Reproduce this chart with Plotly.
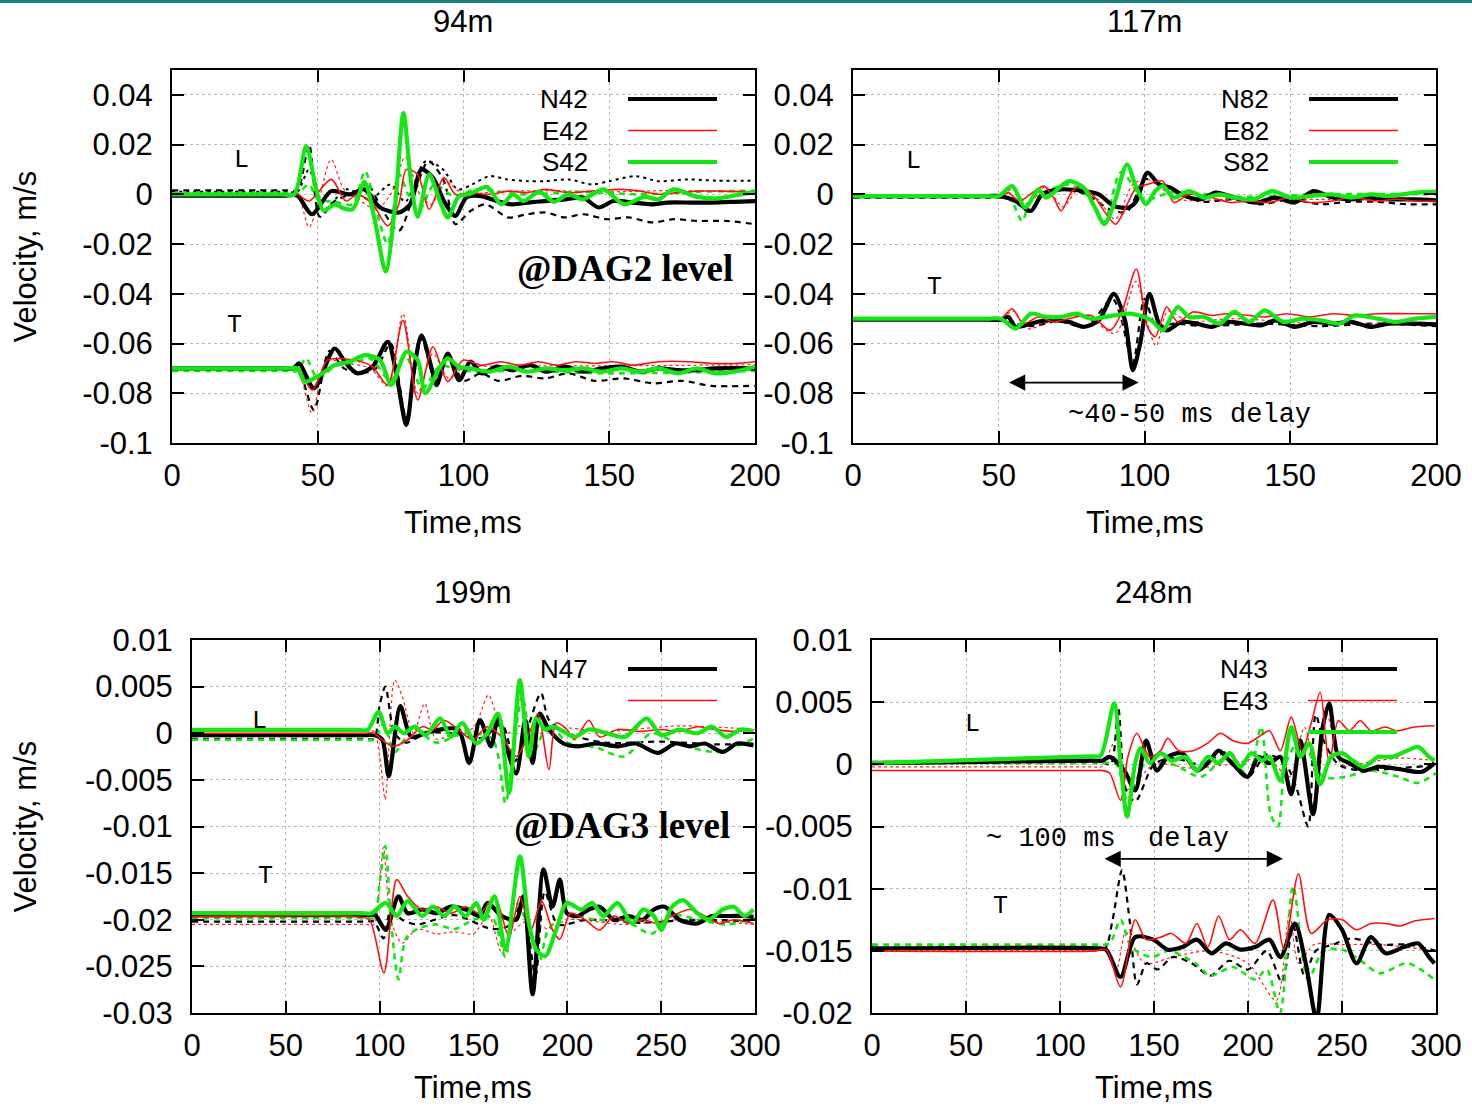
import plotly.graph_objects as go

# ---------------- tick labels ----------------
top_yticks = [0.04, 0.02, 0, -0.02, -0.04, -0.06, -0.08, -0.1]
top_yticklabels = ["0.04", "0.02", "0", "-0.02", "-0.04", "-0.06", "-0.08", "-0.1"]
top_xticks = [0, 50, 100, 150, 200]
bl_yticks = [0.01, 0.005, 0, -0.005, -0.01, -0.015, -0.02, -0.025, -0.03]
bl_yticklabels = ["0.01", "0.005", "0", "-0.005", "-0.01", "-0.015", "-0.02", "-0.025", "-0.03"]
br_yticks = [0.01, 0.005, 0, -0.005, -0.01, -0.015, -0.02]
br_yticklabels = ["0.01", "0.005", "0", "-0.005", "-0.01", "-0.015", "-0.02"]
bot_xticks = [0, 50, 100, 150, 200, 250, 300]

panel_titles = ["94m", "117m", "199m", "248m"]
legend_tl = ["N42", "E42", "S42"]
legend_tr = ["N82", "E82", "S82"]
legend_bl = ["N47", "", ""]
legend_br = ["N43", "E43", ""]

# ---------------- 94m (top-left) : L ----------------
tl_L_S_t = [0, 38, 42, 46, 49.5, 52, 56, 58.5, 62, 66, 69.5, 73.3, 76.5, 79.4, 82, 84.3, 88.2, 92, 94.6, 98.5, 102,
            108, 113, 117, 120.5, 126, 131, 136, 141, 148, 155, 162, 167, 172, 180, 188, 195, 200]
tl_L_S_v = [0, 0, 0, 0.0193, 0.002, -0.0065, -0.004, -0.0055, -0.006, 0.005, -0.01, -0.031, -0.005, 0.0327, 0.005,
            -0.009, 0.008, -0.003, -0.0093, -0.0007, 0.0, 0.003, -0.004, 0.0, -0.0027, 0.001, -0.003, 0.0, -0.002,
            0.002, -0.004, -0.001, -0.002, 0.002, -0.001, -0.0015, 0.0, 0.001]
tl_L_N_t = [0, 39, 43, 48, 54.6, 61, 66, 71.4, 77.8, 81.7, 85.6, 89.5, 93.3, 97.2, 101, 106, 111.4, 116.6, 122, 128,
            135, 141, 146.3, 151.5, 158, 164.5, 170, 178, 185, 193, 200]
tl_L_N_v = [-0.0005, -0.0005, -0.0005, -0.008, 0.0013, 0.0, 0.002, -0.0053, -0.0073, -0.004, 0.01, 0.0067, -0.0027,
            -0.0087, -0.0013, -0.0007, -0.0027, -0.004, -0.0033, -0.0027, -0.002, -0.0013, -0.0053, -0.0027,
            -0.0033, -0.004, -0.0033, -0.0033, -0.0033, -0.003, -0.0027]
tl_L_E_t = [0, 39, 43, 47, 54.6, 59.7, 63.6, 68.8, 74, 77.8, 80.4, 84.3, 88.2, 93.3, 97.2, 102.4, 108.9, 115.3,
            121.8, 128.2, 136, 143.8, 154.1, 160.6, 167, 173.5, 180, 187.7, 200]
tl_L_E_v = [0, 0, 0, -0.0027, 0.006, -0.0027, 0.0, -0.004, -0.0127, -0.004, 0.01, 0.008, -0.006, 0.0067, 0.0,
            0.0007, 0.0, 0.0013, 0.0007, 0.002, 0.0007, 0.0013, 0.002, 0.0013, 0.0, 0.0007, 0.0013, 0.0013, 0.001]
tl_L_Nd_t = [0, 39, 43, 47, 50.7, 55.8, 61, 67, 72, 77.8, 83, 88, 93.3, 97.2, 102.4, 107.6, 115.3, 121.8, 128.2,
             134.7, 141.2, 149, 156.7, 164.5, 172.2, 180, 190, 200]
tl_L_Nd_v = [0.0016, 0.0016, 0.0016, 0.02, -0.009, -0.0027, 0.0, 0.004, -0.006, -0.0147, 0.0, 0.0133, 0.0053, -0.012,
             -0.0067, -0.004, -0.0093, -0.008, -0.0073, -0.0093, -0.008, -0.01, -0.0093, -0.0113, -0.01, -0.0107,
             -0.0107, -0.012]
tl_L_No_t = [0, 39, 43, 47, 52, 60, 68, 75, 80, 87, 93, 98, 103, 108.9, 115, 122, 128, 136, 144, 150, 159, 167, 177,
             187, 200]
tl_L_No_v = [0.001, 0.001, 0.001, 0.01, -0.006, 0.002, -0.002, 0.004, -0.003, 0.0133, 0.01, 0.002, 0.004, 0.0073,
             0.006, 0.0053, 0.0053, 0.006, 0.004, 0.0053, 0.0073, 0.0053, 0.006, 0.0055, 0.0055]
tl_L_Ed_t = [0, 39, 43, 47, 50, 54.6, 59, 64, 70, 75, 80, 85, 89, 94, 100, 110, 130, 150, 170, 200]
tl_L_Ed_v = [0, 0, 0, -0.0133, -0.004, 0.014, 0.002, -0.002, -0.006, 0.0, 0.015, 0.0, -0.004, 0.005, 0.0, 0.001,
             0.0015, 0.001, 0.0015, 0.001]
tl_L_Sd_t = [0, 39, 43, 47, 50, 56, 62, 66.2, 70, 74, 78, 81, 85, 90, 97, 104, 120, 140, 160, 180, 200]
tl_L_Sd_v = [0.0003, 0.0003, 0.0003, 0.004, -0.002, -0.003, -0.004, 0.0093, -0.006, -0.02, 0.008, 0.0, -0.006, 0.004,
             -0.001, 0.002, 0.0, 0.001, 0.0, 0.001, 0.0015]

# ---------------- 94m (top-left) : T ----------------
tl_T_N_t = [0, 38, 41.6, 43.6, 48.7, 55.8, 59.7, 63.6, 68.8, 74, 76.5, 80.4, 83, 85.6, 89.5, 90.8, 94.6, 98.5, 102.4,
            106.3, 111.4, 116.6, 123, 128.2, 134.7, 141.2, 147.6, 154.1, 160.6, 167, 173.5, 180, 186.4, 200]
tl_T_N_v = [-0.07, -0.07, -0.07, -0.068, -0.078, -0.062, -0.068, -0.072, -0.0693, -0.0593, -0.0693, -0.0927, -0.0707,
            -0.0567, -0.072, -0.0767, -0.064, -0.0747, -0.0673, -0.072, -0.0693, -0.0707, -0.0687, -0.0713,
            -0.0693, -0.0713, -0.07, -0.0693, -0.0713, -0.07, -0.0707, -0.0707, -0.07, -0.07]
tl_T_E_t = [0, 39, 43, 48.1, 53.3, 57.1, 64.9, 68.8, 74, 79.2, 84.3, 89.5, 94.6, 99.8, 106.3, 112.7, 119.2, 125.7,
            132.1, 138.6, 145, 151.5, 158, 167, 177.4, 185.1, 192.9, 200]
tl_T_E_v = [-0.07, -0.07, -0.07, -0.0787, -0.0667, -0.066, -0.0673, -0.0693, -0.0767, -0.0507, -0.0827, -0.0613,
            -0.0753, -0.0667, -0.0687, -0.0673, -0.0687, -0.0673, -0.0687, -0.0673, -0.068, -0.0673, -0.0687,
            -0.0673, -0.0673, -0.068, -0.068, -0.0673]
tl_T_S_t = [0, 39, 43, 45.5, 50.7, 55.8, 61, 66.2, 71.4, 75.2, 80.4, 84.3, 86.9, 92, 94.6, 98.5, 102.4, 108.9, 115.3,
            121.8, 128.2, 134.7, 141.2, 147.6, 154.1, 160.6, 167, 173.5, 180, 186.4, 192.9, 200]
tl_T_S_v = [-0.07, -0.07, -0.07, -0.0753, -0.0727, -0.0687, -0.0673, -0.0647, -0.0667, -0.0767, -0.0633, -0.0667,
            -0.08, -0.0693, -0.066, -0.0693, -0.07, -0.0713, -0.0693, -0.0713, -0.07, -0.0707, -0.07, -0.0713,
            -0.07, -0.0713, -0.07, -0.072, -0.07, -0.072, -0.0713, -0.0693]
tl_T_Nd_t = [0, 39, 43, 48.7, 54, 59, 65, 70, 75, 80.4, 85.6, 90, 95, 100, 106, 112, 120, 128, 136, 145, 155, 165,
             175, 185, 200]
tl_T_Nd_v = [-0.07, -0.07, -0.07, -0.0867, -0.063, -0.07, -0.072, -0.07, -0.06, -0.09, -0.058, -0.073, -0.065, -0.075,
             -0.072, -0.075, -0.073, -0.074, -0.072, -0.075, -0.074, -0.076, -0.075, -0.077, -0.077]
tl_T_Ed_t = [0, 39, 43, 48, 53, 60, 68, 74, 79.2, 84.3, 89.5, 95, 100, 120, 150, 200]
tl_T_Ed_v = [-0.0705, -0.0705, -0.0705, -0.088, -0.067, -0.068, -0.07, -0.077, -0.048, -0.08, -0.064, -0.074, -0.07,
             -0.069, -0.069, -0.0685]
tl_T_Sd_t = [0, 39, 43, 46, 50, 56, 62, 68, 75, 80, 86, 92, 100, 120, 150, 200]
tl_T_Sd_v = [-0.071, -0.071, -0.071, -0.066, -0.074, -0.069, -0.068, -0.066, -0.075, -0.065, -0.078, -0.069, -0.071,
             -0.071, -0.072, -0.071]

# ---------------- 117m (top-right) : L ----------------
tr_L_S_t = [0, 46, 50, 54.6, 59.1, 63.6, 66.2, 74, 79.1, 83, 86.2, 89.5, 94, 97.2, 100.5, 103.7, 106.3, 110.1, 115.3,
            120.5, 125.7, 130.8, 137.3, 143.8, 150.2, 156.7, 164.5, 170.9, 177.4, 183.8, 192.9, 200]
tr_L_S_v = [-0.0007, -0.0007, -0.0007, 0.0033, -0.0053, 0.002, -0.0013, 0.0053, 0.0027, -0.0053, -0.012, -0.004, 0.012,
            0.0027, -0.004, 0.0013, 0.0033, -0.0013, 0.0013, -0.0013, 0.0, -0.0013, -0.002, 0.0013, -0.0013,
            -0.0007, 0.0, -0.0013, 0.0, -0.0007, 0.0007, 0.0011]
tr_L_N_t = [0, 46, 50.7, 55.8, 61, 64.9, 71.4, 79.1, 84.3, 89.5, 94.6, 97.2, 101, 105, 108.9, 112.7, 119.2, 124.4,
            130.8, 138.6, 145, 151.5, 158, 164.5, 170.9, 177.4, 183.8, 192.9, 200]
tr_L_N_v = [-0.0007, -0.0007, -0.0007, -0.0027, -0.0067, 0.0, 0.002, 0.0013, 0.0, -0.0047, -0.0053, -0.0027, 0.0087,
            0.004, 0.0027, 0.0, -0.002, 0.0007, -0.0013, -0.0033, -0.0013, -0.0033, 0.0013, -0.0013, -0.002,
            -0.0013, -0.002, -0.002, -0.0024]
tr_L_E_t = [0, 46, 50.7, 53.3, 57.1, 62.3, 65.5, 68.8, 71.4, 75.2, 78.5, 83, 86.9, 90.1, 94.6, 97.2, 101, 106.3,
            110.1, 115.3, 123, 129.5, 136, 142.5, 150.2, 156.7, 164.5, 170.9, 180, 186.4, 192.9, 200]
tr_L_E_v = [-0.0007, -0.0007, -0.0007, 0.0007, -0.0027, 0.0013, 0.0033, -0.0013, -0.0067, 0.0013, 0.0033, -0.0013,
            -0.008, -0.012, -0.0027, 0.0027, 0.004, 0.0053, -0.0033, 0.0, -0.0013, -0.0033, -0.0027, -0.0033,
            -0.0013, -0.0033, -0.0027, -0.0013, -0.0027, -0.002, -0.0027, -0.0027]
tr_L_Nd_t = [0, 46, 50, 56, 60, 66, 72, 80, 88, 94, 100, 104, 110, 120, 130, 140, 150, 160, 170, 180, 190, 200]
tr_L_Nd_v = [-0.0013, -0.0013, -0.0013, -0.002, -0.007, 0.001, 0.002, 0.0, -0.006, -0.007, 0.006, 0.005, 0.001, -0.003,
             -0.002, -0.004, -0.002, -0.004, -0.003, -0.003, -0.004, -0.004]
tr_L_Ed_t = [0, 46, 50, 55, 60, 66, 72, 78, 84, 90, 96, 101, 105, 112, 130, 160, 200]
tr_L_Ed_v = [-0.0005, -0.0005, -0.0005, 0.002, -0.004, 0.003, -0.005, 0.003, -0.002, -0.01, 0.004, 0.006, 0.003,
             -0.002, -0.002, -0.002, -0.002]
tr_L_Sd_t = [0, 46, 50, 54, 58, 61, 66, 74, 80, 86, 92, 100, 110, 130, 160, 200]
tr_L_Sd_v = [-0.0005, -0.0005, -0.0005, -0.002, -0.0107, -0.002, 0.001, 0.004, 0.0, -0.011, 0.009, -0.002, 0.001,
             -0.001, 0.0, 0.0]

# ---------------- 117m (top-right) : T ----------------
tr_T_N_t = [0, 46, 50.7, 53.3, 55.8, 61, 66.2, 74, 79.1, 84.3, 89.5, 93.3, 96, 98.5, 101.7, 105, 107.6, 112.7, 117.9,
            123, 128.2, 134.7, 139.9, 145, 151.5, 158, 164.5, 170.9, 177.4, 183.8, 192.9, 200]
tr_T_N_v = [-0.0504, -0.0504, -0.0504, -0.0493, -0.0533, -0.052, -0.0507, -0.0513, -0.0533, -0.0507, -0.04, -0.0507,
            -0.0707, -0.06, -0.04, -0.052, -0.0547, -0.0513, -0.052, -0.0533, -0.0513, -0.052, -0.0527, -0.0507,
            -0.0533, -0.0513, -0.052, -0.0513, -0.0533, -0.052, -0.052, -0.0523]
tr_T_E_t = [0, 46, 50.7, 54.6, 58.4, 63.6, 68.8, 74, 81.7, 88.2, 92, 97.2, 101, 103.7, 107.6, 111.4, 116.6, 123,
            128.2, 136, 141.2, 148.9, 156.7, 164.5, 172.2, 180, 190.3, 200]
tr_T_E_v = [-0.05, -0.05, -0.05, -0.046, -0.052, -0.0493, -0.0513, -0.05, -0.0487, -0.0547, -0.048, -0.03, -0.0533,
            -0.0573, -0.0453, -0.0513, -0.0473, -0.0487, -0.048, -0.0487, -0.0493, -0.048, -0.0493, -0.048,
            -0.0487, -0.048, -0.048, -0.048]
tr_T_S_t = [0, 46, 50.7, 55.8, 61, 66.2, 71.4, 76.5, 81.7, 89.5, 94.6, 99.8, 102.4, 106.3, 111.4, 115.3, 120.5,
            125.7, 130.8, 136, 141.2, 147.6, 154.1, 160.6, 167, 172.2, 180, 186.4, 192.9, 200]
tr_T_S_v = [-0.05, -0.05, -0.05, -0.054, -0.048, -0.0493, -0.0493, -0.048, -0.05, -0.0487, -0.048, -0.0493, -0.0507,
            -0.0547, -0.0453, -0.0493, -0.0493, -0.052, -0.0473, -0.0513, -0.0467, -0.0513, -0.05, -0.0507,
            -0.052, -0.0487, -0.05, -0.0513, -0.05, -0.0493]
tr_T_Nd_t = [0, 46, 50, 55, 62, 70, 80, 89, 92, 96, 100, 104, 110, 120, 140, 160, 180, 200]
tr_T_Nd_v = [-0.0505, -0.0505, -0.0505, -0.052, -0.053, -0.051, -0.053, -0.042, -0.05, -0.068, -0.042, -0.053, -0.052,
             -0.053, -0.052, -0.053, -0.052, -0.053]
tr_T_Ed_t = [0, 46, 50, 55, 60, 70, 80, 90, 97, 101, 104, 108, 115, 130, 160, 200]
tr_T_Ed_v = [-0.0505, -0.0505, -0.0505, -0.047, -0.054, -0.05, -0.049, -0.056, -0.035, -0.052, -0.061, -0.047, -0.051,
             -0.05, -0.052, -0.052]

# ---------------- 199m (bottom-left) : L ----------------
bl_L_S_t = [0, 88, 93.6, 99.4, 104.2, 108.1, 112.9, 118.7, 124.5, 132.2, 138, 143.8, 151.5, 157.3, 163.1, 168.9,
            174.7, 179.5, 183.4, 188.2, 192.1, 197.9, 203.7, 211.4, 221, 230.7, 242.3, 250, 259.7, 269.3, 277,
            284.7, 292.5, 299.2]
bl_L_S_v = [0.00036, 0.00036, 0.00036, 0.0023, 0.0, 0.0007, 0.0, 0.0007, -0.0002, 0.0016, -0.0004, 0.0011, -0.0011,
            0.0, 0.0021, -0.0064, 0.0057, -0.0025, 0.0016, 0.0004, 0.0007, 0.0002, -0.0004, 0.0004, 0.0, -0.0004,
            0.0016, -0.0002, 0.0004, 0.0, 0.0007, -0.0004, 0.0004, 0.0002]
bl_L_N_t = [0, 92, 97.5, 101.4, 104.8, 111, 116.8, 124.5, 132.2, 141.9, 147.7, 153.5, 159.3, 163.1, 167, 172.8,
            177.6, 181.5, 185.3, 190.2, 197.9, 205.6, 215.3, 226.8, 236.5, 248.1, 257.7, 265.4, 273.2, 282.8,
            290.5, 299.2]
bl_L_N_v = [-0.0002, -0.0002, -0.0002, -0.0007, -0.0046, 0.0029, -0.0004, 0.0, 0.0004, 0.0004, -0.0032, 0.0014,
            -0.0014, 0.0018, -0.0011, -0.0043, 0.0014, -0.0032, 0.0021, 0.0004, -0.0011, -0.0014, -0.0011, -0.0014,
            -0.0011, -0.0021, -0.0011, -0.0014, -0.0011, -0.002, -0.0011, -0.0013]
bl_L_E_t = [0, 92, 97, 99.4, 107.1, 114.9, 122.6, 128.4, 134.2, 141.9, 149.6, 157.3, 165.1, 172.8, 180.5, 184.4,
            190.2, 194, 199.8, 203.7, 211.4, 217.2, 226.8, 238.4, 250, 259.7, 269.3, 279, 288.6, 299.2]
bl_L_E_v = [0.0, 0.0, 0.0, -0.0004, -0.0014, -0.0007, 0.0007, 0.0004, 0.0014, 0.0004, -0.0007, 0.0007, -0.0004,
            -0.0025, 0.0004, 0.0021, -0.0039, 0.0011, 0.0004, -0.0007, 0.0014, -0.0004, 0.0004, 0.0002, 0.0004,
            0.0002, 0.0007, 0.0004, 0.0002, 0.0004]
bl_L_Ed_t = [0, 92, 97, 100, 103, 108, 112, 118, 124, 130, 140, 150, 158, 163, 168, 175, 185, 195, 220, 260, 300]
bl_L_Ed_v = [0.0002, 0.0002, 0.0002, -0.0025, -0.0071, 0.0057, 0.004, 0.0, 0.0032, -0.0006, 0.0, 0.0006, 0.0041,
             0.0015, 0.0, 0.0008, 0.0, 0.0006, 0.0002, 0.0008, 0.0004]
bl_L_Nd_t = [0, 92, 97, 100, 103, 108, 114, 125, 140, 155, 165, 172, 178, 186, 190, 200, 220, 250, 280, 300]
bl_L_Nd_v = [-0.0006, -0.0006, -0.0006, 0.003, 0.005, 0.0, -0.001, 0.0, 0.0, -0.0005, 0.001, -0.003, 0.0, 0.0043,
             0.0015, 0.0, -0.001, -0.0009, -0.0012, -0.0011]
bl_L_Sd_t = [0, 92, 97, 102, 108, 118, 130, 145, 160, 167, 170, 176, 182, 190, 200, 215, 230, 245, 260, 280, 300]
bl_L_Sd_v = [-0.0007, -0.0007, -0.0007, 0.001, -0.002, 0.0005, -0.001, 0.0, -0.0006, -0.0075, -0.004, 0.004, -0.002,
             0.001, -0.001, -0.0015, -0.0025, 0.0, -0.0012, -0.002, -0.0005]

# ---------------- 199m (bottom-left) : T ----------------
bl_T_S_t = [0, 90, 95.6, 103.3, 109.1, 114.9, 122.6, 128.4, 134.2, 140, 145.8, 151.5, 155.4, 161.2, 167, 174.7,
            179.5, 183.4, 188.2, 194, 199.8, 207.5, 213.3, 219.1, 226.8, 234.6, 240.3, 246.1, 250, 255.8, 261.6,
            269.3, 275.1, 282.8, 288.6, 294.4, 299.2]
bl_T_S_v = [-0.0193, -0.0193, -0.0193, -0.0182, -0.0196, -0.018, -0.0196, -0.0186, -0.0196, -0.0186, -0.0196,
            -0.0182, -0.02, -0.0175, -0.0232, -0.0132, -0.0204, -0.0232, -0.0239, -0.0211, -0.0182, -0.0189,
            -0.0182, -0.0196, -0.0182, -0.0204, -0.0189, -0.0196, -0.0211, -0.0186, -0.0179, -0.0193, -0.02,
            -0.0189, -0.0186, -0.0196, -0.0189]
bl_T_N_t = [0, 92, 97.5, 99.4, 103.3, 110, 114.9, 122.6, 130.3, 138, 145.8, 153.5, 157.3, 165.1, 172.8, 176.6,
            181.5, 187.3, 192.1, 196, 199.8, 205.6, 211.4, 217.2, 224.9, 232.6, 240.3, 246.1, 251.9, 259.7, 269.3,
            277, 284.7, 292.5, 299.2]
bl_T_N_v = [-0.0195, -0.0195, -0.0195, -0.02, -0.0211, -0.0175, -0.0193, -0.0189, -0.0193, -0.0186, -0.0189,
            -0.0196, -0.0182, -0.0196, -0.02, -0.0175, -0.028, -0.0146, -0.0186, -0.0157, -0.0193, -0.0196,
            -0.0189, -0.0186, -0.02, -0.0196, -0.02, -0.0189, -0.0186, -0.02, -0.0204, -0.0196, -0.0196, -0.0196,
            -0.0197]
bl_T_E_t = [0, 89, 94.6, 102.3, 109.1, 114.9, 122.6, 130.3, 138, 145.8, 153.5, 161.2, 168.9, 174.7, 180.5, 186.3,
            192.1, 196, 201.7, 209.5, 217.2, 224.9, 232.6, 240.3, 248.1, 255.8, 265.4, 273.2, 280.9, 288.6, 299.2]
bl_T_E_v = [-0.0197, -0.0197, -0.02, -0.0257, -0.0157, -0.0175, -0.0189, -0.0186, -0.0193, -0.0186, -0.0193,
            -0.0175, -0.0218, -0.0175, -0.0211, -0.018, -0.0211, -0.0221, -0.0193, -0.02, -0.0211, -0.0196, -0.0204,
            -0.02, -0.0204, -0.0196, -0.0189, -0.0196, -0.0204, -0.02, -0.0204]
bl_T_Sd_t = [0, 92, 97, 100, 103, 106, 110, 114, 120, 130, 140, 150, 160, 167, 172, 180, 185, 190, 200, 215, 230,
             245, 255, 270, 285, 300]
bl_T_Sd_v = [-0.0198, -0.0198, -0.0198, -0.016, -0.0121, -0.02, -0.0264, -0.022, -0.021, -0.0205, -0.021, -0.02,
             -0.0198, -0.024, -0.018, -0.021, -0.0245, -0.021, -0.0195, -0.02, -0.02, -0.0215, -0.0195, -0.02,
             -0.0205, -0.0198]
bl_T_Ed_t = [0, 92, 97, 100, 102, 106, 112, 120, 130, 140, 150, 158, 165, 170, 180, 190, 200, 230, 260, 300]
bl_T_Ed_v = [-0.0205, -0.0205, -0.0205, -0.016, -0.0122, -0.02, -0.0225, -0.021, -0.0215, -0.0213, -0.0215, -0.0195,
             -0.0235, -0.0215, -0.02, -0.021, -0.02, -0.0205, -0.02, -0.0205]
bl_T_Nd_t = [0, 92, 97, 102, 106, 112, 120, 140, 160, 170, 176, 183, 188, 195, 210, 240, 270, 300]
bl_T_Nd_v = [-0.0202, -0.0202, -0.0202, -0.022, -0.019, -0.02, -0.0205, -0.0195, -0.021, -0.0205, -0.018, -0.026,
             -0.017, -0.0205, -0.02, -0.0203, -0.02, -0.0202]

# ---------------- 248m (bottom-right) : L ----------------
br_L_S_t = [0, 117, 121.6, 128.8, 132.2, 135.7, 140, 142.9, 147.7, 153.5, 159.3, 167, 172.8, 178.6, 184.4, 190.2,
            196, 201.7, 207.5, 211.4, 217.2, 223, 227.8, 232.6, 238.4, 244.2, 250, 255.8, 261.6, 269.3, 277, 284.7,
            290.5, 296.3, 299.2]
br_L_S_v = [0.0001, 0.00065, 0.0007, 0.0049, 0.0001, -0.0042, 0.0001, 0.0013, 0.0001, 0.0009, 0.0003, 0.0006,
            -0.0005, 0.0006, 0.0001, 0.0009, -0.0002, 0.0009, 0.0003, 0.0006, -0.0013, 0.003, 0.0006, 0.0017,
            -0.0016, 0.0006, 0.0009, 0.0003, -0.0002, 0.0006, 0.0006, 0.0011, 0.0014, 0.0006, 0.0003]
br_L_N_t = [0, 117, 122.6, 126.4, 134.2, 140, 145.8, 151.5, 157.3, 165.1, 172.8, 178.6, 184.4, 190.2, 199.8, 205.6,
            211.4, 217.2, 223, 227.8, 234.6, 239.4, 243.2, 248.1, 253.9, 261.6, 269.3, 277, 284.7, 292.5, 299.2]
br_L_N_v = [0.0001, 0.0003, 0.0003, 0.0006, -0.0005, -0.0021, 0.0019, -0.0005, 0.0006, 0.0009, -0.0005, 0.0001,
            0.0011, 0.0003, -0.001, 0.0006, 0.0001, 0.0006, -0.0024, 0.0019, -0.004, 0.0027, 0.0049, 0.0006,
            0.0001, -0.0005, -0.0002, -0.0003, -0.0005, -0.0006, 0.0001]
br_L_E_t = [0, 117, 122.6, 126.4, 132.2, 136.1, 140.9, 147.7, 153.5, 157.3, 163.1, 170.8, 178.6, 185.3, 192.1,
            199.8, 205.6, 211.4, 217.2, 223, 228.8, 233.6, 238.4, 243.2, 248.1, 253.9, 259.7, 265.4, 273.2, 279,
            288.6, 299.2]
br_L_E_v = [-0.0005, -0.0005, -0.0005, -0.0007, -0.0029, 0.0006, 0.0025, 0.0006, 0.0011, 0.0021, 0.0011, 0.0011,
            0.0017, 0.0025, 0.0019, 0.0017, 0.0022, 0.0027, 0.0011, 0.0038, 0.0011, 0.0033, 0.0058, 0.0001, 0.0035,
            0.0027, 0.0035, 0.0027, 0.003, 0.0027, 0.003, 0.0031]
br_L_Nd_t = [0, 117, 122, 127, 131, 135, 140, 150, 160, 175, 190, 200, 210, 220, 226, 232, 236, 240, 248, 260, 280,
             300]
br_L_Nd_v = [0.0002, 0.0002, 0.0002, 0.0, 0.0045, -0.002, -0.003, 0.0, 0.0005, 0.0, 0.001, -0.001, 0.0008, 0.0,
             -0.002, -0.005, 0.004, 0.002, 0.0, -0.0005, -0.0003, -0.0001]
br_L_Sd_t = [0, 117, 122, 130, 136, 145, 160, 175, 190, 200, 207, 212, 216, 220, 228, 240, 252, 265, 280, 290, 300]
br_L_Sd_v = [0.0001, 0.0001, 0.0001, 0.0, -0.003, 0.0, 0.0, -0.001, 0.0008, -0.001, 0.003, -0.004, -0.005, 0.0,
             0.002, -0.001, -0.001, -0.0005, -0.001, -0.0015, -0.0007]
br_L_Ed_t = [0, 117, 122, 130, 136, 150, 170, 190, 210, 222, 230, 237, 242, 250, 265, 280, 300]
br_L_Ed_v = [-0.0002, -0.0002, -0.0002, 0.002, -0.002, 0.0, -0.0003, 0.0, 0.0005, -0.001, 0.003, -0.0015, 0.004,
             0.0, 0.0002, 0.0005, 0.0003]

# ---------------- 248m (bottom-right) : T ----------------
br_T_N_t = [0, 119, 124.5, 132.2, 140, 149.6, 157.3, 165.1, 172.8, 180.5, 188.2, 196, 203.7, 211.4, 217.2, 224.9,
            230.7, 236.5, 243.2, 250, 257.7, 265.4, 273.2, 282.8, 290.5, 296.3, 299.2]
br_T_N_v = [-0.0148, -0.0148, -0.0149, -0.0171, -0.0139, -0.0141, -0.0149, -0.0147, -0.0141, -0.0152, -0.0144,
            -0.0149, -0.0147, -0.0141, -0.0155, -0.0128, -0.016, -0.0205, -0.0121, -0.0133, -0.016, -0.0139,
            -0.0152, -0.0147, -0.0144, -0.0155, -0.016]
br_T_E_t = [0, 119, 124.5, 132.2, 140, 145.8, 153.5, 159.3, 167, 172.8, 178.6, 184.4, 190.2, 196, 203.7, 213.3,
            219.1, 226.8, 233.6, 242.3, 250, 257.7, 265.4, 273.2, 280.9, 288.6, 299.2]
br_T_E_v = [-0.015, -0.015, -0.0149, -0.0179, -0.0125, -0.0141, -0.0139, -0.0136, -0.0144, -0.0128, -0.0147,
            -0.0122, -0.0141, -0.0133, -0.0144, -0.0109, -0.0149, -0.0088, -0.0136, -0.0125, -0.0125, -0.0133,
            -0.0128, -0.0128, -0.013, -0.0126, -0.0124]
br_T_Nd_t = [0, 119, 124, 128, 133, 137, 141, 146, 152, 160, 170, 180, 190, 200, 210, 218, 224, 230, 236, 245, 255,
             270, 285, 300]
br_T_Nd_v = [-0.0148, -0.0148, -0.0148, -0.0125, -0.0085, -0.0125, -0.0177, -0.016, -0.0165, -0.0155, -0.016,
             -0.017, -0.0158, -0.0165, -0.015, -0.0175, -0.013, -0.017, -0.015, -0.0145, -0.014, -0.0145, -0.0145,
             -0.015]
br_T_Sd_t = [0, 119, 124, 127, 132.2, 138, 148.7, 158, 172, 180, 192, 203.7, 210, 217, 224, 232, 240, 250, 260, 270,
             285, 299]
br_T_Sd_v = [-0.0145, -0.0145, -0.0145, -0.0143, -0.0125, -0.0147, -0.0155, -0.015, -0.016, -0.017, -0.0163,
             -0.0173, -0.0165, -0.02, -0.0098, -0.0173, -0.015, -0.0149, -0.0158, -0.0168, -0.016, -0.0173]
br_T_Ed_t = [0, 119, 124, 130, 135, 145, 160, 180, 200, 215, 222, 227, 235, 250, 270, 300]
br_T_Ed_v = [-0.015, -0.015, -0.015, -0.0165, -0.0135, -0.016, -0.0155, -0.015, -0.016, -0.019, -0.012, -0.016,
             -0.0145, -0.0145, -0.0145, -0.015]

# ---------------- styles ----------------
GREEN = "#14e614"
styles = {
    "N": dict(color="black", width=4.2),
    "E": dict(color="#ff1010", width=1.6),
    "S": dict(color=GREEN, width=4.2),
    "Nd": dict(color="black", width=2.2, dash="6px,5px"),
    "No": dict(color="black", width=2.0, dash="3px,4px"),
    "Ed": dict(color="#ff2020", width=1.2, dash="3px,3px"),
    "Sd": dict(color=GREEN, width=2.6, dash="6px,5px"),
}

series = [
    (1, "No", tl_L_No_t, tl_L_No_v), (1, "Nd", tl_L_Nd_t, tl_L_Nd_v), (1, "Ed", tl_L_Ed_t, tl_L_Ed_v),
    (1, "Sd", tl_L_Sd_t, tl_L_Sd_v), (1, "Nd", tl_T_Nd_t, tl_T_Nd_v), (1, "Ed", tl_T_Ed_t, tl_T_Ed_v),
    (1, "Sd", tl_T_Sd_t, tl_T_Sd_v),
    (1, "N", tl_L_N_t, tl_L_N_v), (1, "N", tl_T_N_t, tl_T_N_v),
    (1, "E", tl_L_E_t, tl_L_E_v), (1, "E", tl_T_E_t, tl_T_E_v),
    (1, "S", tl_L_S_t, tl_L_S_v), (1, "S", tl_T_S_t, tl_T_S_v),

    (2, "Nd", tr_L_Nd_t, tr_L_Nd_v), (2, "Ed", tr_L_Ed_t, tr_L_Ed_v), (2, "Sd", tr_L_Sd_t, tr_L_Sd_v),
    (2, "Nd", tr_T_Nd_t, tr_T_Nd_v), (2, "Ed", tr_T_Ed_t, tr_T_Ed_v),
    (2, "N", tr_L_N_t, tr_L_N_v), (2, "N", tr_T_N_t, tr_T_N_v),
    (2, "E", tr_L_E_t, tr_L_E_v), (2, "E", tr_T_E_t, tr_T_E_v),
    (2, "S", tr_L_S_t, tr_L_S_v), (2, "S", tr_T_S_t, tr_T_S_v),

    (3, "Ed", bl_L_Ed_t, bl_L_Ed_v), (3, "Nd", bl_L_Nd_t, bl_L_Nd_v), (3, "Sd", bl_L_Sd_t, bl_L_Sd_v),
    (3, "Ed", bl_T_Ed_t, bl_T_Ed_v), (3, "Nd", bl_T_Nd_t, bl_T_Nd_v), (3, "Sd", bl_T_Sd_t, bl_T_Sd_v),
    (3, "N", bl_L_N_t, bl_L_N_v), (3, "N", bl_T_N_t, bl_T_N_v),
    (3, "E", bl_L_E_t, bl_L_E_v), (3, "E", bl_T_E_t, bl_T_E_v),
    (3, "S", bl_L_S_t, bl_L_S_v), (3, "S", bl_T_S_t, bl_T_S_v),

    (4, "Ed", br_L_Ed_t, br_L_Ed_v), (4, "Nd", br_L_Nd_t, br_L_Nd_v), (4, "Sd", br_L_Sd_t, br_L_Sd_v),
    (4, "Ed", br_T_Ed_t, br_T_Ed_v), (4, "Nd", br_T_Nd_t, br_T_Nd_v), (4, "Sd", br_T_Sd_t, br_T_Sd_v),
    (4, "N", br_L_N_t, br_L_N_v), (4, "N", br_T_N_t, br_T_N_v),
    (4, "E", br_L_E_t, br_L_E_v), (4, "E", br_T_E_t, br_T_E_v),
    (4, "S", br_L_S_t, br_L_S_v),
]

fig = go.Figure()
for p, kind, t, v in series:
    sfx = "" if p == 1 else str(p)
    fig.add_trace(go.Scatter(x=t, y=v, mode="lines", xaxis="x" + sfx, yaxis="y" + sfx,
                             line=dict(shape="spline", smoothing=0.8, **styles[kind]),
                             showlegend=False, hoverinfo="skip"))

W, H = 1472, 1108
SANS = "Liberation Sans, Arial, sans-serif"
MONO = "Liberation Mono, Courier New, monospace"
SERIF = "Liberation Serif, Times New Roman, serif"
FS = 31
LEG_FS = 26

boxes = {1: (172, 755, 70, 443), 2: (853, 1436, 70, 443), 3: (192, 755, 640, 1013), 4: (872, 1436, 640, 1013)}
ranges = {1: ([0, 200], [-0.1, 0.05]), 2: ([0, 200], [-0.1, 0.05]),
          3: ([0, 300], [-0.03, 0.01]), 4: ([0, 300], [-0.02, 0.01])}
yt = {1: (top_yticks, top_yticklabels), 2: (top_yticks, top_yticklabels),
      3: (bl_yticks, bl_yticklabels), 4: (br_yticks, br_yticklabels)}
xt = {1: top_xticks, 2: top_xticks, 3: bot_xticks, 4: bot_xticks}

common = dict(showline=True, linecolor="black", linewidth=2, mirror="ticks", ticks="inside", ticklen=12,
              tickwidth=2, tickcolor="black", showgrid=True, gridcolor="#b8b8b8", gridwidth=1, griddash="dot",
              zeroline=False, automargin=False, fixedrange=True,
              tickfont=dict(family=SANS, size=FS, color="black"))
layout_axes = {}
for p, (l, r, t, b) in boxes.items():
    sfx = "" if p == 1 else str(p)
    layout_axes["xaxis" + sfx] = dict(common, domain=[l / W, r / W], range=ranges[p][0], anchor="y" + sfx,
                                      tickvals=xt[p], ticktext=[str(v) for v in xt[p]], ticklabelstandoff=4)
    layout_axes["yaxis" + sfx] = dict(common, domain=[1 - b / H, 1 - t / H], range=ranges[p][1],
                                      anchor="x" + sfx, tickvals=yt[p][0], ticktext=yt[p][1],
                                      ticklabelstandoff=11)

fig.update_layout(template="none", width=W, height=H, autosize=False,
                  margin=dict(l=0, r=0, t=0, b=0, pad=0, autoexpand=False),
                  paper_bgcolor="white", plot_bgcolor="white", showlegend=False, **layout_axes)

ann = []
shapes = []
for p, title in zip([1, 2, 3, 4], panel_titles):
    l, r, t, b = boxes[p]
    cx = (l + r) / 2 / W
    ann.append(dict(text=title, x=cx, y=1 - (t - 48) / H, xref="paper", yref="paper", showarrow=False,
                    xanchor="center", yanchor="middle", font=dict(family=SANS, size=FS, color="black")))
    if p in (1, 2):
        ann.append(dict(text="Time,ms", x=cx, y=1 - (b + 79) / H, xref="paper", yref="paper", showarrow=False,
                        xanchor="center", yanchor="middle", font=dict(family=SANS, size=FS, color="black")))
    else:
        ann.append(dict(text="Time,ms", x=cx, y=1 - (b + 94) / H, xref="paper", yref="paper", showarrow=False,
                        xanchor="center", yanchor="bottom", font=dict(family=SANS, size=FS, color="black")))
for p in (1, 3):
    l, r, t, b = boxes[p]
    ann.append(dict(text="Velocity, m/s", x=25 / W, y=1 - (t + b) / 2 / H, xref="paper", yref="paper",
                    xanchor="center", yanchor="middle", textangle=-90, showarrow=False,
                    font=dict(family=SANS, size=FS, color="black")))

legend_sets = {1: legend_tl, 2: legend_tr, 3: legend_bl, 4: legend_br}
legend_kinds = ["N", "E", "S"]
legend_draw = {1: [1, 1, 1], 2: [1, 1, 1], 3: [1, 1, 0], 4: [1, 1, 1]}
for p, labels in legend_sets.items():
    l, r, t, b = boxes[p]
    wpx, hpx = r - l, b - t
    sfx = "" if p == 1 else str(p)
    for i, (lab, kind) in enumerate(zip(labels, legend_kinds)):
        ypx = 29 + 31.5 * i
        yd = 1 - ypx / hpx
        if lab:
            ann.append(dict(text=lab, x=(418 if p in (1, 2) else 398) / wpx, y=yd, xref="x" + sfx + " domain",
                            yref="y" + sfx + " domain", xanchor="right", yanchor="middle", showarrow=False,
                            font=dict(family=SANS, size=LEG_FS, color="black")))
        if legend_draw[p][i]:
            st = styles[kind]
            shapes.append(dict(type="line", xref="x" + sfx + " domain", yref="y" + sfx + " domain",
                               x0=(456 if p in (1, 2) else 436) / wpx, x1=(545 if p in (1, 2) else 525) / wpx,
                               y0=yd, y1=yd, line=dict(color=st["color"], width=st["width"])))

lt_labels = [(1, "L", 23.7, 0.0137), (1, "T", 21.6, -0.0527), (2, "L", 20.6, 0.0133), (2, "T", 28.1, -0.0374),
             (3, "L", 35.7, 0.0013), (3, "T", 39.4, -0.0154), (4, "L", 53.2, 0.0032), (4, "T", 68.1, -0.0114)]
for p, txt, x, y in lt_labels:
    sfx = "" if p == 1 else str(p)
    ann.append(dict(text=txt, x=x, y=y, xref="x" + sfx, yref="y" + sfx, showarrow=False,
                    xanchor="center", yanchor="middle", font=dict(family=MONO, size=25, color="black")))

ann.append(dict(text="<b>@DAG2 level</b>", x=193, y=-0.0298, xref="x", yref="y", xanchor="right",
                yanchor="middle", showarrow=False, font=dict(family=SERIF, size=37, color="black")))
ann.append(dict(text="<b>@DAG3 level</b>", x=288, y=-0.0099, xref="x3", yref="y3", xanchor="right",
                yanchor="middle", showarrow=False, font=dict(family=SERIF, size=37, color="black")))
ann.append(dict(text="~40-50 ms delay", x=115.6, y=-0.0889, xref="x2", yref="y2", showarrow=False,
                xanchor="center", yanchor="middle", font=dict(family=MONO, size=27, color="black")))
ann.append(dict(text="~ 100 ms  delay", x=125.5, y=-0.006, xref="x4", yref="y4", showarrow=False,
                xanchor="center", yanchor="middle", font=dict(family=MONO, size=27, color="black")))
ann.append(dict(text="", x=98, y=-0.0757, ax=53, ay=-0.0757, xref="x2", yref="y2", axref="x2", ayref="y2",
                showarrow=True, arrowhead=2, arrowside="end+start", arrowsize=1.8, arrowwidth=1.8,
                arrowcolor="black"))
ann.append(dict(text="", x=218.6, y=-0.0076, ax=122.9, ay=-0.0076, xref="x4", yref="y4", axref="x4",
                ayref="y4", showarrow=True, arrowhead=2, arrowside="end+start", arrowsize=1.8, arrowwidth=1.8,
                arrowcolor="black"))

shapes.append(dict(type="rect", xref="paper", yref="paper", x0=0, x1=1, y0=1 - 3 / H, y1=1,
                   line=dict(width=0), fillcolor="#167e86", layer="below"))

fig.update_layout(annotations=ann, shapes=shapes)
fig.write_html("out.html", config={"displayModeBar": False, "responsive": False},
               post_script="document.body.style.margin='0';document.body.style.overflow='hidden';")
